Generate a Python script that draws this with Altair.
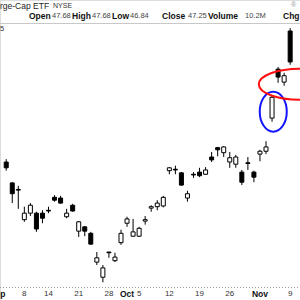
import altair as alt
import pandas as pd

# trading-day index: 0 = Sep 8 2015 ... 44 = Nov 9 2015
day_idx = list(range(-3, 45))
opens = [45.86, 45.57, 45.48, 45.06, 45.15, 45.15, 45.15, 45.19, 45.37, 45.36,
         45.10, 45.26, 44.90, 44.96, 44.87, 44.47, 44.26, 44.61, 44.49, 44.74,
         45.01, 44.83, 44.83, 45.04, 45.22, 45.24, 45.25, 45.74, 45.76, 45.71,
         45.36, 45.69, 45.72, 45.69, 45.93, 46.06, 45.99, 45.86, 45.83, 45.72,
         45.85, 45.72, 45.97, 46.01, 46.47, 47.15, 46.97, 47.68]
highs = [45.90, 45.58, 45.53, 45.24, 45.29, 45.17, 45.19, 45.24, 45.40, 45.39,
         45.21, 45.28, 45.04, 44.97, 44.89, 44.61, 44.43, 44.61, 44.60, 44.92,
         45.10, 45.07, 44.96, 45.11, 45.26, 45.33, 45.39, 45.79, 45.81, 45.72,
         45.46, 45.72, 45.78, 45.79, 46.00, 46.07, 46.08, 46.00, 45.96, 45.75,
         45.93, 45.74, 46.03, 46.15, 46.79, 47.18, 47.10, 47.72]
lows = [45.74, 45.29, 45.21, 45.03, 45.11, 44.89, 45.01, 45.15, 45.31, 45.28,
        45.08, 45.17, 44.82, 44.83, 44.71, 44.43, 44.19, 44.53, 44.47, 44.71,
        44.96, 44.82, 44.82, 44.99, 45.17, 45.19, 45.23, 45.69, 45.69, 45.53,
        45.31, 45.64, 45.65, 45.68, 45.86, 45.94, 45.93, 45.78, 45.78, 45.54,
        45.75, 45.58, 45.87, 45.97, 46.42, 46.96, 46.92, 47.21]
closes = [45.78, 45.42, 45.47, 45.15, 45.26, 44.93, 45.08, 45.18, 45.33, 45.29,
          45.15, 45.18, 45.03, 44.90, 44.72, 44.53, 44.39, 44.60, 44.54, 44.87,
          45.07, 44.89, 44.94, 45.06, 45.24, 45.29, 45.37, 45.78, 45.75, 45.54,
          45.42, 45.68, 45.67, 45.75, 45.89, 46.03, 46.07, 45.92, 45.93, 45.58,
          45.84, 45.65, 46.01, 46.07, 46.76, 47.04, 47.06, 47.25]

label_idx = [-4.4, 0, 4, 9, 14, 17, 19, 24, 29, 34, 39, 44]
label_text = ["Sep", "8", "14", "21", "28", "Oct", "5", "12", "19", "26", "Nov", "9"]
label_bold = [True, False, False, False, False, True, False, False, False, False, True, False]

# annotation ellipses (centre in trading-day / price units)
ell_idx = [41.2, 45.6]
ell_price = [46.56, 46.94]

df = pd.DataFrame({"idx": day_idx, "open": opens, "high": highs,
                   "low": lows, "close": closes})
df["fill"] = ["black" if c < o else "white" for o, c in zip(opens, closes)]

lab = pd.DataFrame({"idx": label_idx, "text": label_text, "bold": label_bold})
one = pd.DataFrame({"k": [0]})

XS = alt.Scale(domain=[-3.2, 44.8], nice=False, zero=False)
YS = alt.Scale(domain=[43.9439, 48.1106], nice=False, zero=False)
FONT = "Liberation Sans"

base = alt.Chart(df)
wicks = base.mark_rule(color="black", strokeWidth=1).encode(
    x=alt.X("idx:Q", scale=XS, axis=None),
    y=alt.Y("low:Q", scale=YS, axis=None),
    y2="high:Q",
)
bodies = base.mark_bar(size=4, stroke="black", strokeWidth=1).encode(
    x=alt.X("idx:Q", scale=XS, axis=None),
    y=alt.Y("open:Q", scale=YS, axis=None),
    y2="close:Q",
    fill=alt.Fill("fill:N", scale=None),
)

ell_blue = alt.Chart(pd.DataFrame({"idx": ell_idx[:1], "p": ell_price[:1]})).mark_point(
    shape="M -0.675 0 A 0.675 1 0 1 0 0.675 0 A 0.675 1 0 1 0 -0.675 0 Z",
    size=1600, filled=False, stroke="#1414ff", strokeWidth=2, opacity=1,
).encode(x=alt.X("idx:Q", scale=XS, axis=None), y=alt.Y("p:Q", scale=YS, axis=None))

ell_red = alt.Chart(pd.DataFrame({"idx": ell_idx[1:], "p": ell_price[1:]})).mark_point(
    shape="M -1 0 A 1 0.38 0 1 0 1 0 A 1 0.38 0 1 0 -1 0 Z",
    size=6724, filled=False, stroke="#ff1010", strokeWidth=2, opacity=1,
).encode(x=alt.X("idx:Q", scale=XS, axis=None), y=alt.Y("p:Q", scale=YS, axis=None))

# x-axis line and labels
axis_line = alt.Chart(one).mark_rule(color="#9a9a9a", strokeWidth=1, strokeDash=[1, 2]).encode(
    x=alt.value(0), x2=alt.value(300), y=alt.value(287.5))
lab_norm = alt.Chart(lab[~lab["bold"]]).mark_text(
    font=FONT, fontSize=8, color="#333333", baseline="middle", align="center").encode(
    x=alt.X("idx:Q", scale=XS, axis=None), y=alt.value(293.5), text="text:N")
lab_bold = alt.Chart(lab[lab["bold"]]).mark_text(
    font=FONT, fontSize=8.5, fontWeight="bold", color="#111111", baseline="middle", align="center").encode(
    x=alt.X("idx:Q", scale=XS, axis=None), y=alt.value(293.5), text="text:N")

sep_line = alt.Chart(one).mark_rule(color="#c8c8c8", strokeWidth=1).encode(
    x=alt.value(0), x2=alt.value(300), y=alt.value(23.5))


def txt(s, x, y, size=8, bold=False, color="#222222"):
    return alt.Chart(one).mark_text(
        text=s, font=FONT, fontSize=size, fontWeight="bold" if bold else "normal",
        color=color, align="left", baseline="middle"
    ).encode(x=alt.value(x), y=alt.value(y))


header = [
    txt("rge-Cap ETF", 0, 5.5, 8.5, False, "#222222"),
    txt("NYSE", 53, 5.5, 7, False, "#333333"),
    txt("Open", 29, 15.5, 8.5, True, "#111111"),
    txt("47.68", 52, 15.5, 7.5, False, "#444444"),
    txt("High", 72, 15.5, 8.5, True, "#111111"),
    txt("47.68", 92, 15.5, 7.5, False, "#444444"),
    txt("Low", 112, 15.5, 8.5, True, "#111111"),
    txt("46.84", 130, 15.5, 7.5, False, "#444444"),
    txt("Close", 162, 15.5, 8.5, True, "#111111"),
    txt("47.25", 188, 15.5, 7.5, False, "#444444"),
    txt("Volume", 208, 15.5, 8.5, True, "#111111"),
    txt("10.2M", 245, 15.5, 7.5, False, "#444444"),
    txt("Chg", 283, 15.5, 8.5, True, "#111111"),
    txt("5", 0, 29, 7.5, False, "#333333"),
    txt("®", 291, 5, 7, False, "#999999"),
]

chart = alt.layer(
    sep_line, axis_line, wicks, bodies, ell_blue, ell_red, lab_norm, lab_bold, *header
).properties(
    width=300, height=300,
    autosize=alt.AutoSizeParams(type="none"),
    padding=0,
).configure_view(stroke=None).configure(background="white")

chart.save("out.html", embed_options={"renderer": "svg", "actions": False})
